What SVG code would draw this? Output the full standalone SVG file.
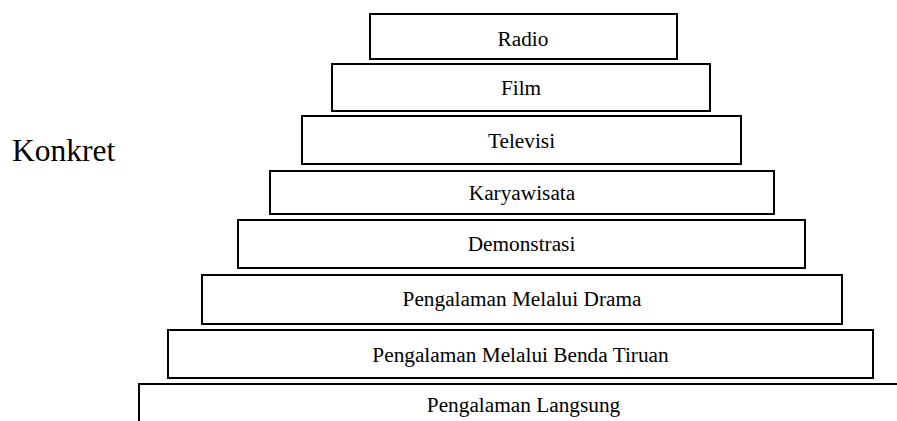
<svg xmlns="http://www.w3.org/2000/svg" width="897" height="421" viewBox="0 0 897 421">
<style>
.box{fill:#fff;stroke:#000;stroke-width:2}
.lbl{font-family:"Liberation Serif","Times New Roman",serif;font-size:21.3px;fill:#000;text-anchor:middle}
.side{font-family:"Liberation Serif","Times New Roman",serif;font-size:31.5px;fill:#000}
</style>
<rect width="897" height="421" fill="#fff"/>
<text class="side" x="12" y="161">Konkret</text>
<g id="radio"><rect class="box" x="370" y="14" width="307" height="45"/><text class="lbl" x="523" y="46">Radio</text></g>
<g id="film"><rect class="box" x="332" y="64" width="378" height="47"/><text class="lbl" x="521" y="95">Film</text></g>
<g id="televisi"><rect class="box" x="302" y="116" width="439" height="48"/><text class="lbl" x="521.5" y="148">Televisi</text></g>
<g id="karyawisata"><rect class="box" x="270" y="171" width="504" height="43"/><text class="lbl" x="522" y="200">Karyawisata</text></g>
<g id="demonstrasi"><rect class="box" x="238" y="220" width="567" height="48"/><text class="lbl" x="521.5" y="251">Demonstrasi</text></g>
<g id="drama"><rect class="box" x="202" y="275" width="640" height="49"/><text class="lbl" x="522" y="306">Pengalaman Melalui Drama</text></g>
<g id="tiruan"><rect class="box" x="168" y="330" width="705" height="48"/><text class="lbl" x="520.5" y="362">Pengalaman Melalui Benda Tiruan</text></g>
<g id="langsung"><rect class="box" x="139" y="384" width="800" height="100"/><text class="lbl" x="523.5" y="412">Pengalaman Langsung</text></g>
<g id="connectors"/>
</svg>
